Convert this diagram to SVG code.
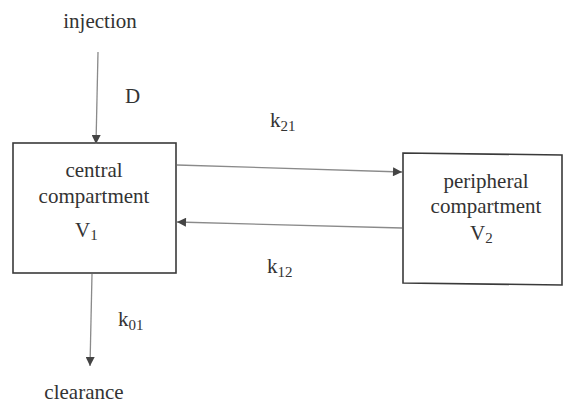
<svg xmlns="http://www.w3.org/2000/svg" width="564" height="404" viewBox="0 0 564 404" font-family="'Liberation Serif', 'DejaVu Serif', serif">
  <style>
    .lbl { font-family: 'Liberation Serif', 'DejaVu Serif', serif; font-size: 21px; fill: #333; }
    .sub { font-size: 15px; }
    .box { fill: #fff; stroke: #3a3a3a; stroke-width: 1.6; }
    .flow { fill: none; stroke: #8a8a8a; stroke-width: 1.3; marker-end: url(#head); }
  </style>
  <defs>
    <marker id="head" viewBox="0 0 10 10" refX="10" refY="5" markerUnits="userSpaceOnUse" markerWidth="11" markerHeight="9" orient="auto">
      <path d="M0,0 L10,5 L0,10 z" fill="#444"/>
    </marker>
  </defs>
  <rect width="564" height="404" fill="#fff"/>

  <g id="central">
    <rect class="box" x="13" y="143" width="163" height="130"/>
    <text class="lbl" x="94" y="177" text-anchor="middle">central</text>
    <text class="lbl" x="94" y="203" text-anchor="middle">compartment</text>
    <text class="lbl" x="75" y="237">V<tspan class="sub" dy="3">1</tspan></text>
  </g>

  <g id="peripheral">
    <polygon class="box" points="403,153 562,155 562,285 403,283"/>
    <text class="lbl" x="486" y="188" text-anchor="middle">peripheral</text>
    <text class="lbl" x="486" y="213" text-anchor="middle">compartment</text>
    <text class="lbl" x="470" y="240">V<tspan class="sub" dy="3">2</tspan></text>
  </g>

  <g id="injection">
    <text class="lbl" x="100" y="28" text-anchor="middle">injection</text>
  </g>

  <g id="clearance">
    <text class="lbl" x="84" y="399" text-anchor="middle">clearance</text>
  </g>

  <g id="connectors">
    <line class="flow" x1="98" y1="52" x2="96" y2="144"/>
    <text class="lbl" x="125" y="103">D</text>

    <line class="flow" x1="177" y1="165" x2="402" y2="172"/>
    <text class="lbl" x="270" y="127">k<tspan class="sub" dy="4">21</tspan></text>

    <line class="flow" x1="402" y1="228" x2="177" y2="222"/>
    <text class="lbl" x="267" y="273">k<tspan class="sub" dy="4">12</tspan></text>

    <line class="flow" x1="92" y1="274" x2="90" y2="366"/>
    <text class="lbl" x="118" y="326">k<tspan class="sub" dy="4">01</tspan></text>
  </g>
</svg>
